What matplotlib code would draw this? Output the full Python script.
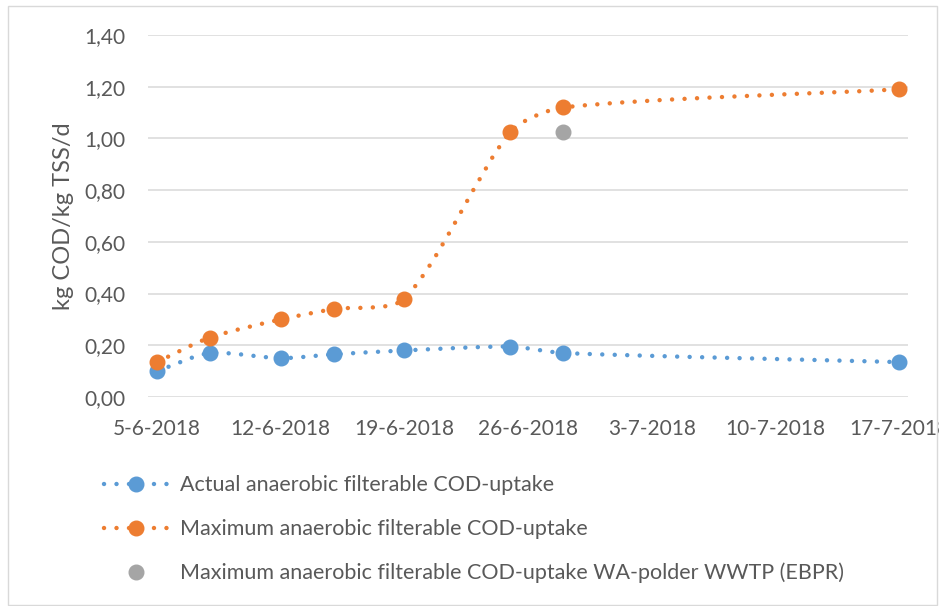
import datetime as dt

import numpy as np
import matplotlib
matplotlib.use("Agg")
import matplotlib.pyplot as plt
import matplotlib.dates as mdates
from matplotlib.lines import Line2D
from matplotlib.patches import PathPatch, Rectangle
from matplotlib.path import Path
from matplotlib.ticker import FuncFormatter, MultipleLocator

plt.rcParams["font.family"] = ["Lato", "DejaVu Sans"]

# sampling days (2018)
dates = [dt.date(2018, 6, 5), dt.date(2018, 6, 8), dt.date(2018, 6, 12),
         dt.date(2018, 6, 15), dt.date(2018, 6, 19), dt.date(2018, 6, 25),
         dt.date(2018, 6, 28), dt.date(2018, 7, 17)]
actual_uptake = [0.10, 0.17, 0.15, 0.165, 0.18, 0.195, 0.17, 0.135]
max_uptake = [0.135, 0.23, 0.30, 0.34, 0.38, 1.025, 1.12, 1.19]
wa_polder_date = [dt.date(2018, 6, 28)]
wa_polder_uptake = [1.025]

labels = ["Actual anaerobic filterable COD-uptake",
          "Maximum anaerobic filterable COD-uptake",
          "Maximum anaerobic filterable COD-uptake WA-polder WWTP (EBPR)"]

BLUE = "#5B9BD5"
ORANGE = "#ED7D31"
GREY = "#A5A5A5"
TEXT = "#595959"
GRID = "#D9D9D9"
DOTS = (0, (0.01, 2.8))


def smooth_path(ax, x, y, arm=0.25):
    """Bezier path through the points (smoothed line), built in screen space."""
    pts = ax.transData.transform(np.column_stack([x, y]))
    n = len(pts)
    verts = [pts[0]]
    codes = [Path.MOVETO]
    for i in range(n - 1):
        p0 = pts[max(i - 1, 0)]
        p1 = pts[i]
        p2 = pts[i + 1]
        p3 = pts[min(i + 2, n - 1)]
        seg = np.hypot(*(p2 - p1))
        t1 = (p2 - p0) / np.hypot(*(p2 - p0))
        t2 = (p3 - p1) / np.hypot(*(p3 - p1))
        verts += [p1 + t1 * seg * arm, p2 - t2 * seg * arm, p2]
        codes += [Path.CURVE4] * 3
    return Path(ax.transData.inverted().transform(np.array(verts)), codes)


def draw_series(ax, x, y, color):
    ax.add_patch(PathPatch(smooth_path(ax, x, y), facecolor="none", edgecolor=color,
                           lw=3.2, linestyle=DOTS, capstyle="round", zorder=3))
    ax.plot(x, y, "o", color=color, markersize=10.5, linestyle="none", zorder=4)


fig = plt.figure(figsize=(9.39, 6.06), dpi=100)
ax = fig.add_axes([148 / 939, 1 - 397 / 606, 760 / 939, 362 / 606])

x = mdates.date2num(dates)
ax.set_xlim(x[0] - 0.5, x[-1] + 0.5)
ax.set_ylim(0, 1.4)

draw_series(ax, x, actual_uptake, BLUE)
draw_series(ax, x, max_uptake, ORANGE)
ax.plot(mdates.date2num(wa_polder_date), wa_polder_uptake, "o", color=GREY,
        markersize=10.5, linestyle="none", zorder=5)

ax.set_xticks(np.arange(x[0], x[-1] + 1, 7))
ax.xaxis.set_major_formatter(FuncFormatter(
    lambda v, pos: "{d.day}-{d.month}-{d.year}".format(d=mdates.num2date(v))))
ax.yaxis.set_major_locator(MultipleLocator(0.2))
ax.yaxis.set_major_formatter(FuncFormatter(lambda v, pos: f"{v:.2f}".replace(".", ",")))

ax.grid(axis="y", color=GRID, lw=1.1)
ax.set_axisbelow(True)
for side in ax.spines.values():
    side.set_visible(False)
ax.tick_params(axis="both", length=0, labelsize=15, labelcolor=TEXT)
ax.tick_params(axis="x", pad=16)
ax.tick_params(axis="y", pad=16)
ax.set_ylabel("kg COD/kg TSS/d", fontsize=17, color=TEXT, labelpad=8)

handles = [
    Line2D([], [], color=BLUE, lw=3.2, linestyle=DOTS, dash_capstyle="round",
           marker="o", markersize=10.5),
    Line2D([], [], color=ORANGE, lw=3.2, linestyle=DOTS, dash_capstyle="round",
           marker="o", markersize=10.5),
    Line2D([], [], color=GREY, linestyle="none", marker="o", markersize=10.5),
]
fig.legend(handles, labels, loc="upper left", bbox_to_anchor=(85 / 939, 1 - 456 / 606),
           frameon=False, fontsize=15.5, labelcolor=TEXT, numpoints=1,
           handlelength=2.95, handletextpad=0.55, labelspacing=1.1)

# chart area border
fig.add_artist(Rectangle((8 / 939, 1 - 605 / 606), 929 / 939, 599 / 606,
                         transform=fig.transFigure, fill=False, edgecolor=GRID, lw=1))

fig.savefig("out.png", dpi=100)
